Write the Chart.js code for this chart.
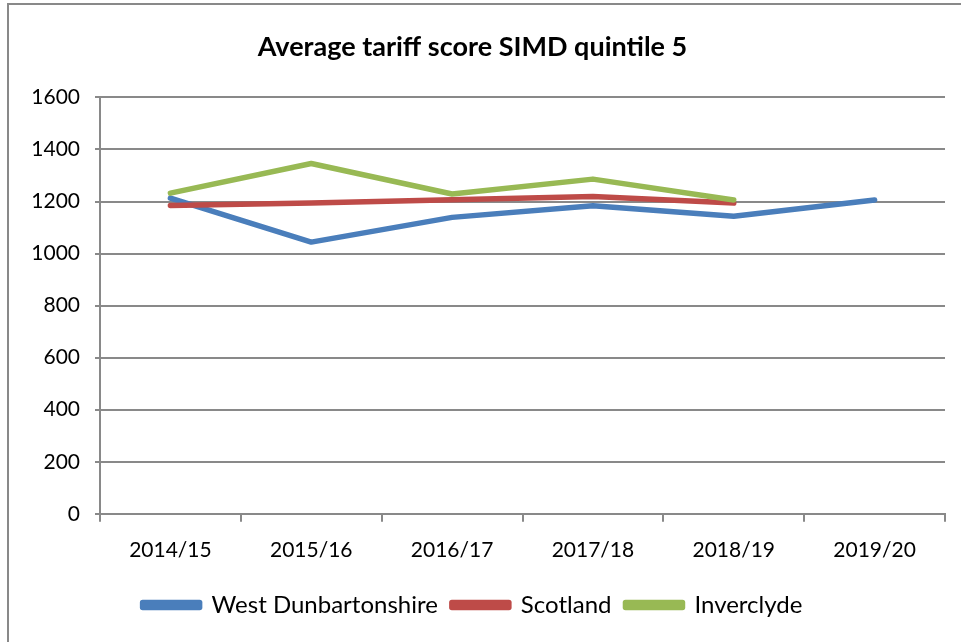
<!DOCTYPE html>
<html>
<head>
<meta charset="utf-8">
<script src="https://cdn.jsdelivr.net/npm/chart.js@4/dist/chart.umd.min.js"></script>
<style>
    body { margin: 0; overflow: hidden; background: #fff; }
    #wrap { position: relative; width: 961px; height: 642px; }
    #frame { position: absolute; left: 7px; top: 3px; width: 1000px; height: 1000px; border: 2px solid #898989; }
    canvas { position: absolute; left: 0; top: 0; }
</style>
</head>
<body>
<div id="wrap">
    <div id="frame"></div>
    <canvas id="grafico" width="961" height="642"></canvas>
</div>
<script>
// DADOS
const anos = ['2014/15', '2015/16', '2016/17', '2017/18', '2018/19', '2019/20'];
const westDunbartonshire = [1213, 1044, 1139, 1184, 1143, 1206];
const scotland = [1185, 1194, 1207, 1219, 1194, null];
const inverclyde = [1232, 1346, 1229, 1286, 1206, null];

const corGrade = '#898989';
const fonte = 'Lato, Calibri, sans-serif';

function serie(nome, dados, cor, ordem) {
    return {
        label: nome,
        data: dados,
        borderColor: cor,
        backgroundColor: cor,
        borderWidth: 5.5,
        borderCapStyle: 'round',
        borderJoinStyle: 'round',
        pointRadius: 0,
        tension: 0,
        order: ordem
    };
}

const ctx = document.getElementById('grafico').getContext('2d');

new Chart(ctx, {
    type: 'line',
    data: {
        labels: anos,
        datasets: [
            serie('West Dunbartonshire', westDunbartonshire, '#4A7EBB', 3),
            serie('Scotland', scotland, '#BE4B48', 2),
            serie('Inverclyde', inverclyde, '#98B954', 1)
        ]
    },
    options: {
        responsive: false,
        animation: false,
        layout: { padding: { left: 0, right: 16, top: 0, bottom: 15 } },
        plugins: {
            title: {
                display: true,
                text: 'Average tariff score SIMD quintile 5',
                color: '#000',
                font: { family: fonte, size: 27, weight: 'bold' },
                padding: { top: 31, bottom: 34 }
            },
            legend: {
                position: 'bottom',
                labels: {
                    color: '#000',
                    font: { family: fonte, size: 24 },
                    boxWidth: 57,
                    boxHeight: 5,
                    padding: 14,
                    sort: (a, b) => a.datasetIndex - b.datasetIndex
                }
            },
            tooltip: { enabled: false }
        },
        scales: {
            x: {
                offset: true,
                grid: {
                    offset: true,
                    drawOnChartArea: false,
                    color: corGrade,
                    lineWidth: 2,
                    tickLength: 8
                },
                border: { color: corGrade, width: 2 },
                ticks: {
                    color: '#000',
                    font: { family: fonte, size: 21 },
                    padding: 16,
                    maxRotation: 0
                }
            },
            y: {
                min: 0,
                max: 1600,
                afterFit: function (escala) { escala.width = 100; },
                grid: {
                    color: corGrade,
                    lineWidth: 2,
                    tickLength: 5
                },
                border: { color: corGrade, width: 2 },
                ticks: {
                    stepSize: 200,
                    color: '#000',
                    font: { family: fonte, size: 21 },
                    padding: 15,
                    callback: valor => String(valor)
                }
            }
        }
    }
});
</script>
</body>
</html>
